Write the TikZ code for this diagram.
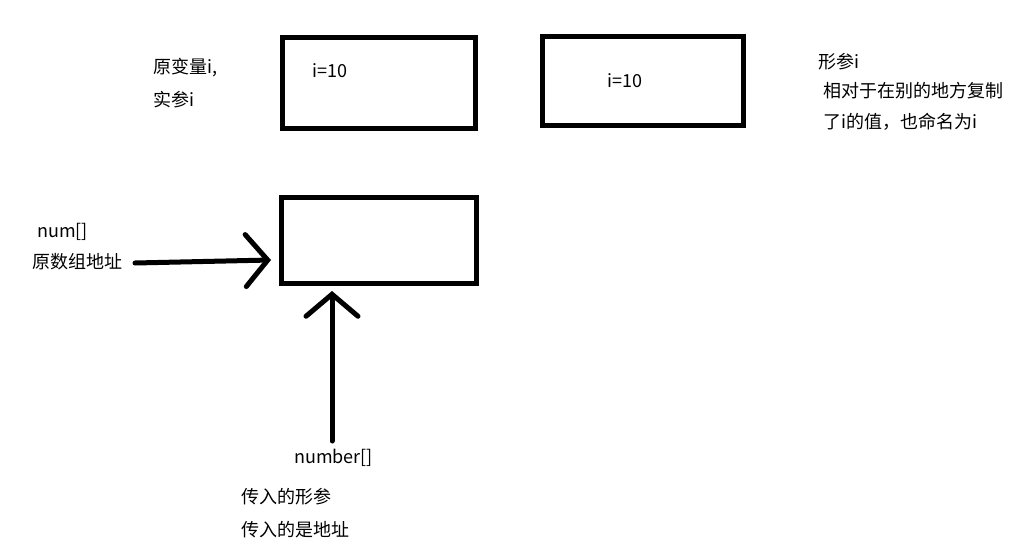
\documentclass[tikz,border=0pt]{standalone}
\usepackage{fontspec}
\setmainfont{Noto Sans CJK SC}
\usetikzlibrary{arrows.meta}
\begin{document}
\begin{tikzpicture}[x=1pt,y=-1pt,
  box/.style={draw=black,line width=5pt,inner sep=0pt},
  lbl/.style={anchor=west,inner sep=0pt,font=\fontsize{18}{21}\selectfont},
  arr/.style={line width=5pt,line cap=round,-{Straight Barb[length=22pt,width=52pt,line cap=round,line join=miter]}}]
\useasboundingbox (0,0) rectangle (1019,543);
% boxes
\draw[box] (282,38) rectangle (475,128);
\draw[box] (542,37) rectangle (743,125);
\draw[box] (281,197) rectangle (476,283);
\coordinate (b3w) at (271,260);
\coordinate (b3s) at (332,291);
% texts
\node[lbl] (v1) at (312,71) {i=10};
\node[lbl] (v2) at (607,81) {i=10};
\node[lbl] (t1) at (153,68) {原变量i,};
\node[lbl] (t2) at (153,100) {实参i};
\node[lbl] (t3) at (818,62) {形参i};
\node[lbl] (t4) at (823,91) {相对于在别的地方复制};
\node[lbl] (t5) at (823,122) {了i的值，也命名为i};
\node[lbl] (t6) at (37,232) {num[]};
\node[lbl] (t7) at (32,262) {原数组地址};
\node[lbl] (t8) at (294,458) {number[]};
\node[lbl] (t9) at (241,497) {传入的形参};
\node[lbl] (t10) at (241,530) {传入的是地址};
% arrows
\coordinate (a1) at (135,263);
\coordinate (a2) at (332,441);
\draw[arr] (a1) -- (b3w);
\draw[arr] (a2) -- (b3s);
\end{tikzpicture}
\end{document}
